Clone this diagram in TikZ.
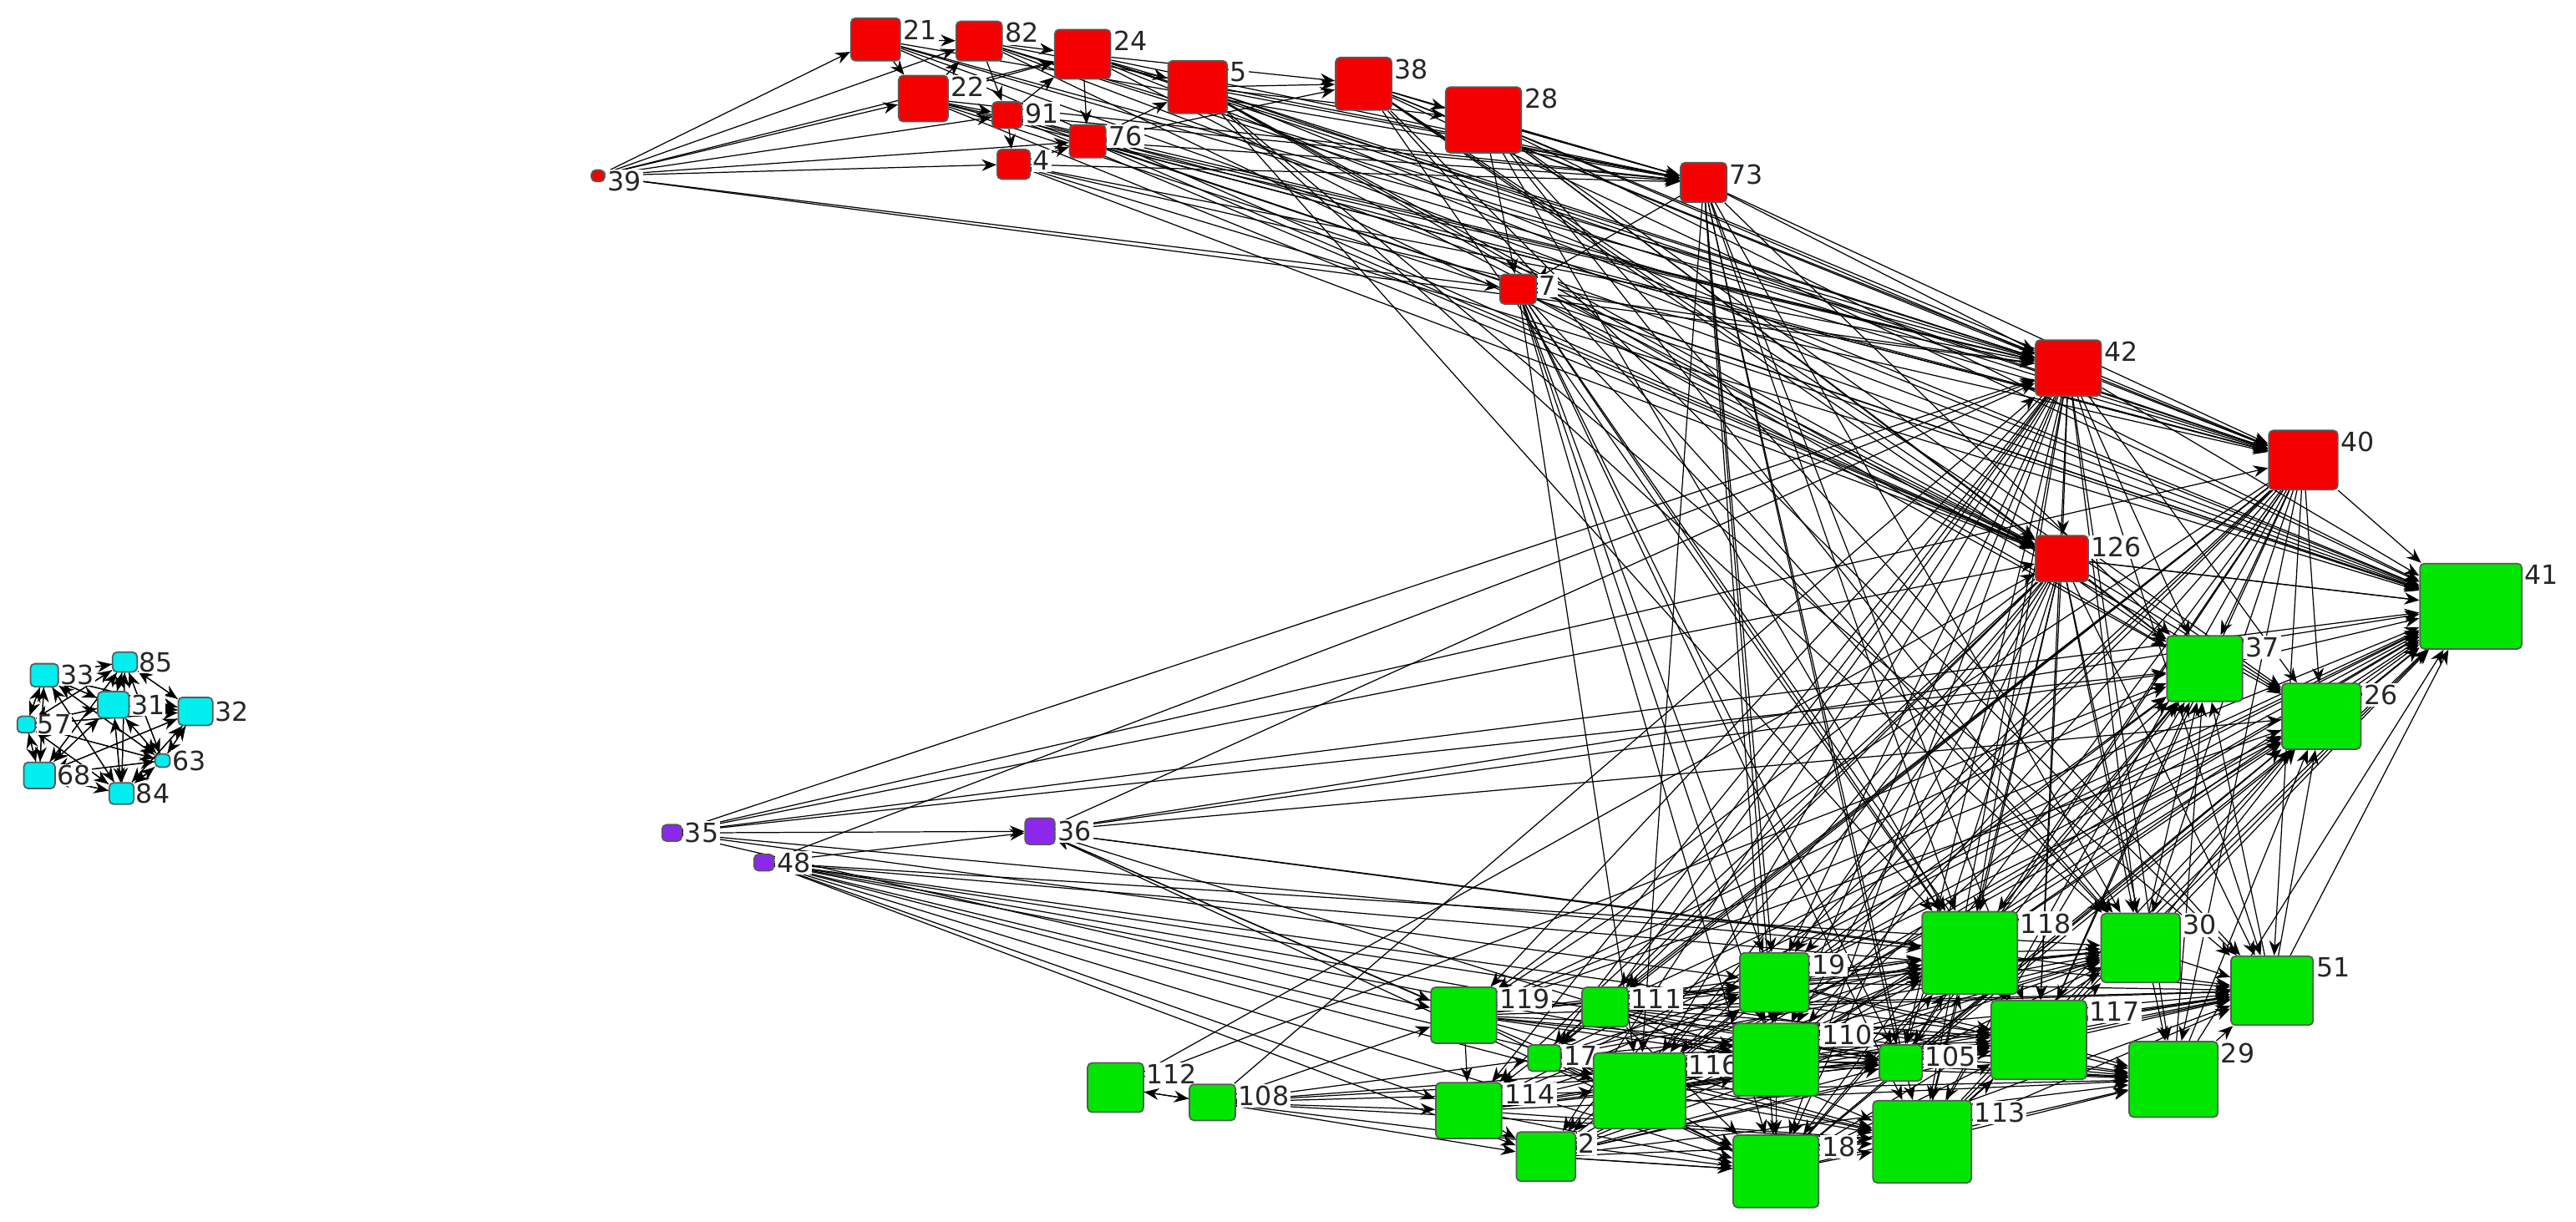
\documentclass[tikz,border=0pt]{standalone}
\usepackage{fontspec}
\setmainfont{DejaVu Sans}
\usetikzlibrary{arrows.meta}
\definecolor{cy}{RGB}{0,238,238}
\definecolor{pu}{RGB}{140,40,235}
\definecolor{gr}{RGB}{0,230,0}
\definecolor{rd}{RGB}{245,0,0}
\pgfdeclarelayer{bg}\pgfsetlayers{bg,main}
\begin{document}
\begin{tikzpicture}[x=0.01967cm,y=-0.01967cm,
  box/.style={draw=black!65,line width=0.5pt,rounded corners=1.5pt,inner sep=0pt},
  lab/.style={fill=white,inner sep=0.6pt,font=\fontsize{9}{10}\selectfont,text=black!85,anchor=north west},
  e/.style={line width=0.35pt,-{Stealth[length=5pt,width=4pt]}}]
\useasboundingbox (0,0) rectangle (1568,743.8);
% red nodes
\foreach \n/\x/\y/\w/\h in {21/533/24/30/26,82/596/25/28/24,24/659/33/34/30,5/729/53/36/32,38/830/51/34/32,28/903/73/46/40,22/562/60/30/28,91/613/70/18/16,76/662/86/22/20,4/617/100/20/18,39/364/107/8/7,73/1037/111/28/24,7/924/176/22/18,42/1259/224/40/34,40/1402/280/42/36,126/1255/340/32/28}
  \node[box,fill=rd,minimum width=\w*0.1967mm,minimum height=\h*0.1967mm,label={[lab]north east:\n}] (n\n) at (\x,\y) {};
% green nodes
\foreach \n/\x/\y/\w/\h in {41/1504/369/62/52,37/1342/407/46/40,26/1413/436/48/40,118/1199/580/58/50,30/1303/577/48/42,51/1383/603/50/42,19/1080/598/42/36,119/891/618/40/34,111/977/613/28/24,17/940/644/20/16,116/998/664/56/46,110/1081/645/52/44,105/1157/647/26/22,117/1241/633/58/48,29/1323/657/54/46,114/894/676/40/34,112/679/662/34/30,108/738/671/28/22,2/941/704/36/30,18/1081/713/52/44,113/1170/695/60/50}
  \node[box,fill=gr,minimum width=\w*0.1967mm,minimum height=\h*0.1967mm,label={[lab]north east:\n}] (n\n) at (\x,\y) {};
% purple
\foreach \n/\x/\y/\w/\h in {35/409/507/12/10,48/465/525/12/10,36/633/506/18/16}
  \node[box,fill=pu,minimum width=\w*0.1967mm,minimum height=\h*0.1967mm,label={[lab,anchor=west]east:\n}] (n\n) at (\x,\y) {};
% cyan
\foreach \n/\x/\y/\w/\h in {33/27/411/17/14,85/76/403/15/12,31/69/429/19/16,32/119/433/21/17,57/16/441/11/10,63/99/463/9/8,68/24/472/19/16,84/74/483/15/13}
  \node[box,fill=cy,minimum width=\w*0.1967mm,minimum height=\h*0.1967mm,label={[lab,anchor=west,inner sep=0.3pt]east:\n}] (n\n) at (\x,\y) {};
\begin{pgfonlayer}{bg}
% cyan cluster
\foreach \s in {33,85,31,32,57,63,68,84}
  \foreach \t in {33,85,31,32,57,63,68,84}
    {\ifnum\s<\t \draw[e] (n\s) -- (n\t); \draw[e] (n\t) -- (n\s);\fi}
% 39
\foreach \t in {21,22,91,4,76,82,24,7,42}
  \draw[e] (n39) -- (n\t);
% top chain
\foreach \s/\t in {21/82,82/24,24/5,5/38,38/28,28/73,22/91,91/4,76/5,28/7,73/7,21/22,22/82,82/91,24/76,4/76,22/24,91/24,76/38,5/28,24/38,73/42,7/42,7/126,73/40,42/40,42/126,40/41,126/41}
  \draw[e] (n\s) -- (n\t);
\foreach \s in {21,82,24,5,38,28,22,91,76,4}
  \foreach \t in {42,40,126,41,73}
    \draw[e] (n\s) -- (n\t);
% reds to greens
\foreach \s in {42,126,40}
  \foreach \t in {37,26,118,30,51,19,110,116,117,29,113,18,105,2,114,119,111,17}
    \draw[e] (n\s) -- (n\t);
\foreach \s in {73,7}
  \foreach \t in {37,118,30,19,110,117,113,18,105,116}
    \draw[e] (n\s) -- (n\t);
\foreach \s in {28,5,38}
  \foreach \t in {37,26,118,30,51}
    \draw[e] (n\s) -- (n\t);
% 41 hub
\foreach \t in {37,26,118,30,51,19,110,116,117,29,113,18,105,2,114,119,111,17,42,126}
  \draw[e] (n\t) -- (n41);
\foreach \t in {118,30,51,19,110,117,29,113,18,116,105,119}
  {\draw[e] (n\t) -- (n37); \draw[e] (n\t) -- (n26);}
% purple
\foreach \t in {36,42,40,37,126,119,19,118,41}
  \draw[e] (n35) -- (n\t);
\foreach \t in {36,42,114,2,116,110,105,117,29,30,18,113,51}
  \draw[e] (n48) -- (n\t);
\foreach \t in {41,37,26,119,110,118,51,42}
  \draw[e] (n36) -- (n\t);
\draw[e] (n116) -- (n36);
\draw[e] (n18) -- (n36);
% green internal
\foreach \s/\t in {112/108,108/112,112/37,112/126,108/42}
  \draw[e] (n\s) -- (n\t);
\foreach \t in {114,2,116,18,119,17,110,113,105}
  \draw[e] (n108) -- (n\t);
\foreach \s in {119,111,17,114,2,116}
  \foreach \t in {19,110,18,105,117,113,118,30,29,51}
    \draw[e] (n\s) -- (n\t);
\foreach \s in {19,110,18,105,113}
  \foreach \t in {118,30,117,29,51}
    \draw[e] (n\s) -- (n\t);
\foreach \s/\t in {118/30,30/51,117/29,29/51,117/51,118/117,19/110,110/18,18/113,113/117,119/114,114/2,2/18,111/17,17/116,116/110}
  \draw[e] (n\s) -- (n\t);
\end{pgfonlayer}
\end{tikzpicture}
\end{document}
